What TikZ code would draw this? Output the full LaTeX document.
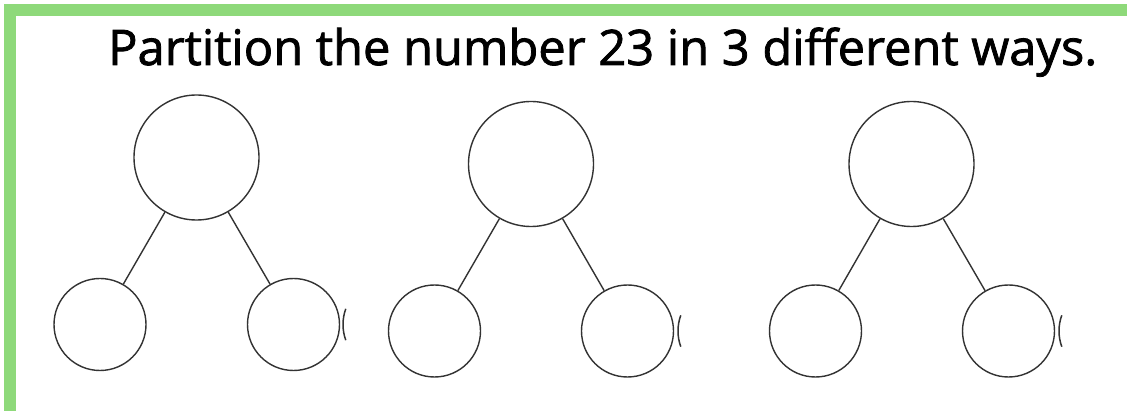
\documentclass[tikz,border=0pt]{standalone}
\usepackage{fontspec}
\setmainfont{Open Sans}[UprightFeatures={FakeBold=1.6}]
\usepackage{graphicx}
\definecolor{framegreen}{HTML}{8ED97A}
\definecolor{ink}{HTML}{333333}
\begin{document}
\begin{tikzpicture}[x=1pt,y=-1pt,
  bigc/.style={circle,draw=ink,line width=1.4pt,minimum size=125pt,inner sep=0pt},
  smallc/.style={circle,draw=ink,line width=1.4pt,minimum size=92pt,inner sep=0pt},
  link/.style={draw=ink,line width=1.4pt},
  stub/.style={draw=ink,line width=1.5pt}]
\useasboundingbox (0,0) rectangle (1127,411);
\fill[white] (0,0) rectangle (1127,411);
\fill[framegreen] (4,4) rectangle (1127,16);
\fill[framegreen] (4,4) rectangle (16,411);
\node[anchor=base west,inner sep=0pt] (title) at (108,65)
  {\resizebox{989pt}{\height}{\fontsize{49}{56}\selectfont Partition the number 23 in 3 different ways.}};
% tree 1
\node[bigc] (t1) at (196.5,157.5) {};
\node[smallc] (l1) at (100,324.5) {};
\node[smallc] (r1) at (293.5,324.5) {};
\draw[link] (t1) -- (l1);
\draw[link] (t1) -- (r1);
\draw[stub] ([shift={(160:46)}]389,324.5) arc[start angle=160,end angle=200,radius=46];
% tree 2
\node[bigc] (t2) at (531,164) {};
\node[smallc] (l2) at (434.5,331) {};
\node[smallc] (r2) at (627.5,331) {};
\draw[link] (t2) -- (l2);
\draw[link] (t2) -- (r2);
\draw[stub] ([shift={(160:46)}]724,331) arc[start angle=160,end angle=200,radius=46];
% tree 3
\node[bigc] (t3) at (911.5,164) {};
\node[smallc] (l3) at (815.5,331) {};
\node[smallc] (r3) at (1008.5,331) {};
\draw[link] (t3) -- (l3);
\draw[link] (t3) -- (r3);
\draw[stub] ([shift={(160:46)}]1105,331) arc[start angle=160,end angle=200,radius=46];
\end{tikzpicture}
\end{document}
